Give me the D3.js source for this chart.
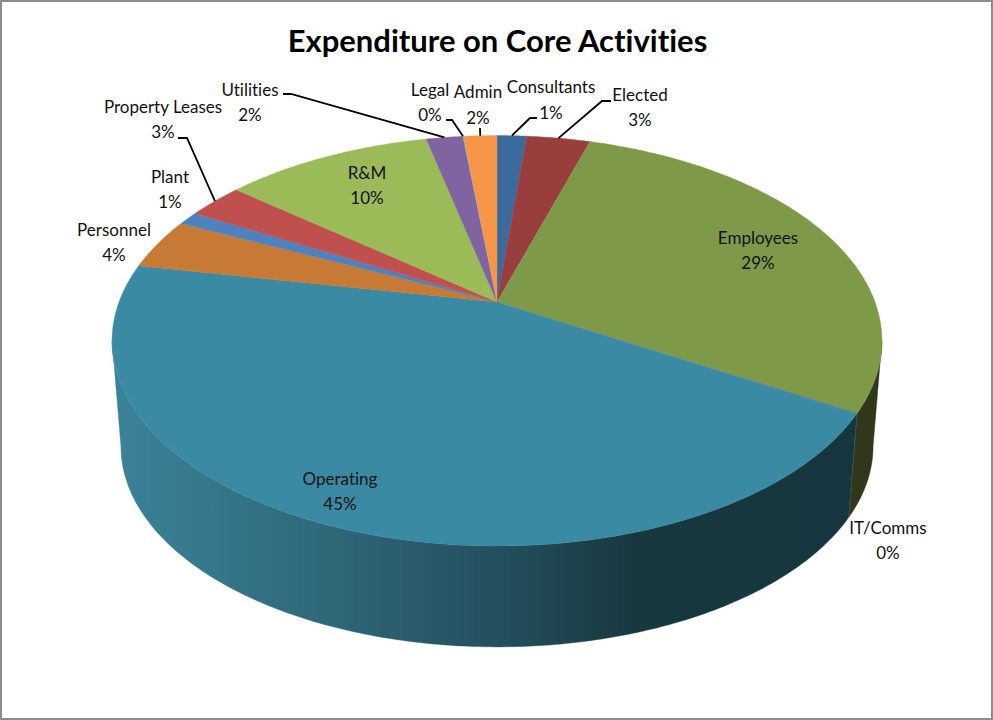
<!DOCTYPE html>
<html>
<head>
<meta charset="utf-8">
<script src="https://cdn.jsdelivr.net/npm/d3@7"></script>
<style>
  html, body { margin: 0; padding: 0; background: #fff; }
  svg { display: block; }
  text { font-family: Lato, "Open Sans", sans-serif; fill: #111; font-variant-ligatures: none; }
</style>
</head>
<body>
<div id="chart"></div>
<script>
// Spending shares, clockwise from twelve o'clock
const categories = ["Consultants", "Elected", "Employees", "IT/Comms", "Operating", "Personnel",
                    "Plant", "Property Leases", "R&M", "Utilities", "Legal", "Admin"];
const values = [1.49, 3.2, 28.77, 0.05, 44.52, 4.02, 1.08, 2.82, 10.49, 1.84, 0.04, 1.68];
const topColors = ["#3c6a9c", "#983e3c", "#7e9a49", "#604a7b", "#3b8aa4", "#c67a36",
                   "#4f81bd", "#c0504d", "#9bbb59", "#8064a2", "#4bacc6", "#f79646"];
const wallColors = { Employees: "#30371b", "IT/Comms": "#2a2136", Operating: "url(#operatingWall)" };
const operatingWallStops = [[0, "#3b8299"], [0.14, "#35768a"], [0.3, "#2e6577"], [0.5, "#234f5e"],
                            [0.68, "#18383f"], [1, "#16363f"]];

// Label placement: centre x, first and second line y, optional leader elbow
const labelLayout = [
  { x: 551, y1: 87, y2: 113, elbow: [[537, 118], [530, 118]] },
  { x: 640, y1: 95, y2: 120, elbow: [[611, 101], [602, 101]] },
  { x: 758, y1: 238, y2: 263 },
  { x: 888, y1: 528, y2: 553 },
  { x: 340, y1: 479, y2: 504 },
  { x: 114, y1: 230, y2: 255 },
  { x: 170, y1: 177, y2: 202 },
  { x: 163, y1: 107, y2: 132, elbow: [[178, 138], [187, 138]] },
  { x: 367, y1: 173, y2: 198 },
  { x: 250, y1: 90, y2: 115, elbow: [[283, 94], [291, 94]] },
  { x: 430, y1: 90, y2: 115, elbow: [[446, 120], [452, 120]] },
  { x: 478, y1: 92, y2: 118, elbow: [[480, 128]] }
];

const width = 993, height = 720;
const svg = d3.select("#chart").append("svg").attr("width", width).attr("height", height);

svg.append("rect")
  .attr("x", 1).attr("y", 1).attr("width", width - 2).attr("height", height - 2)
  .attr("fill", "#fff").attr("stroke", "#8c8c8c").attr("stroke-width", 2);

svg.append("text")
  .attr("x", 497.5).attr("y", 52)
  .attr("text-anchor", "middle")
  .attr("font-size", 31).attr("font-weight", 700)
  .style("fill", "#000")
  .text("Expenditure on Core Activities");

// Perspective projection of the disc: the far side shrinks, so the apex sits above the ellipse centre
const cx = 497, tilt = 0.1888;
const topFace = { ax: 378, ay: 197.9, y0: 302 };
const bottomFace = { ax: 369.3, ay: 193.3, y0: 408.6 };
function project(face, angle) {
  const u = Math.sin(angle), v = Math.cos(angle), w = 1 + tilt * v;
  return [cx + face.ax * u / w, face.y0 - face.ay * v / w];
}

const pie = d3.pie().sort(null).value(d => d);
const arcs = pie(values);
const total = d3.sum(values);
const percent = d3.format(".0%");
const line = d3.line();

// Hairline seams between neighbours, left off the slivers so they stay invisible
const seam = value => value < 0.1 ? 0 : 0.4;

// Angles sampled along an arc, so the projected outline stays smooth
function sample(a0, a1) {
  const steps = Math.max(2, Math.ceil((a1 - a0) / 0.01));
  return d3.range(steps + 1).map(i => a0 + (a1 - a0) * i / steps);
}

const defs = svg.append("defs");
const grad = defs.append("linearGradient")
  .attr("id", "operatingWall").attr("gradientUnits", "userSpaceOnUse")
  .attr("x1", 112).attr("x2", 882).attr("y1", 0).attr("y2", 0);
operatingWallStops.forEach(s => grad.append("stop").attr("offset", s[0]).attr("stop-color", s[1]));

// Outer wall: only the part of the rim that faces the viewer
const wallStart = Math.acos(-tilt), wallEnd = 2 * Math.PI - wallStart;
const wallGroup = svg.append("g");
arcs.forEach((d, i) => {
  const a0 = Math.max(d.startAngle, wallStart), a1 = Math.min(d.endAngle, wallEnd);
  if (a1 <= a0) return;
  const angles = sample(a0, a1);
  const outline = angles.map(a => project(topFace, a))
    .concat(angles.slice().reverse().map(a => project(bottomFace, a)));
  const fill = wallColors[categories[i]];
  wallGroup.append("path")
    .attr("d", line(outline) + "Z")
    .attr("fill", fill).attr("stroke", fill).attr("stroke-width", seam(d.data));
});

// Top face slices
svg.append("g").selectAll("path").data(arcs).join("path")
  .attr("d", d => line([[cx, topFace.y0]].concat(sample(d.startAngle, d.endAngle).map(a => project(topFace, a)))) + "Z")
  .attr("fill", (d, i) => topColors[i])
  .attr("stroke", (d, i) => topColors[i])
  .attr("stroke-width", d => seam(d.data));

// Leader lines run from the elbow to the rim at the slice's mid-angle
svg.append("g").selectAll("path")
  .data(arcs.map((d, i) => ({ d, layout: labelLayout[i] })).filter(e => e.layout.elbow))
  .join("path")
  .attr("d", e => line(e.layout.elbow.concat([project(topFace, (e.d.startAngle + e.d.endAngle) / 2)])))
  .attr("fill", "none").attr("stroke", "#000").attr("stroke-width", 1.8);

// Two-line labels: category name and share
const labels = svg.append("g").attr("text-anchor", "middle").attr("font-size", 17)
  .selectAll("g").data(arcs).join("g");
labels.append("text")
  .attr("x", (d, i) => labelLayout[i].x).attr("y", (d, i) => labelLayout[i].y1)
  .attr("dy", "0.35em")
  .text((d, i) => categories[i]);
labels.append("text")
  .attr("x", (d, i) => labelLayout[i].x).attr("y", (d, i) => labelLayout[i].y2)
  .attr("dy", "0.35em")
  .text(d => percent(d.data / total));
</script>
</body>
</html>
